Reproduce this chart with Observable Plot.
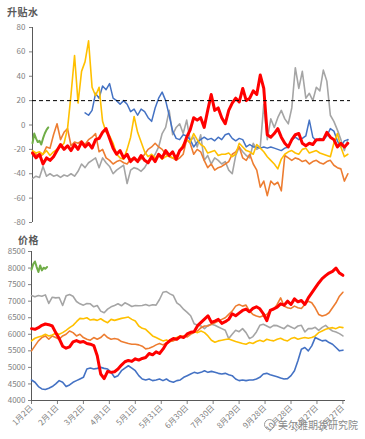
<!DOCTYPE html>
<html><head><meta charset="utf-8">
<script src="https://cdn.jsdelivr.net/npm/d3@7"></script>
<script src="https://cdn.jsdelivr.net/npm/@observablehq/plot@0.6"></script>
<style>
body{margin:0;background:#fff;font-family:"Noto Sans CJK SC",sans-serif;}
#wrap{position:relative;width:365px;height:439px;overflow:hidden;}
.ttl{position:absolute;z-index:3;font-size:10px;color:#595959;font-weight:600;letter-spacing:0.5px;line-height:12px;}
#top,#bot{position:absolute;left:0;z-index:1;}
#wm{position:absolute;z-index:3;left:264px;top:419px;font-size:10px;color:#8a8a8a;line-height:12px;white-space:nowrap;}
#wm span.ic{display:inline-block;width:9px;height:9px;border:1.5px solid #9a9a9a;border-radius:50%;vertical-align:-1px;margin-right:3px;}
</style></head><body>
<div id="wrap">
<div id="top" style="top:0"></div>
<div id="bot" style="top:232px"></div>
<div class="ttl" style="left:7px;top:6px">升贴水</div>
<div class="ttl" style="left:18px;top:234px">价格</div>
<div id="wm"><span class="ic"></span>美尔雅期货研究院</div>
</div>
<script>
// ---------- data ----------
const startUTC = Date.UTC(2020, 0, 2);
const dayOffsets = d3.range(0, 361, 4);          // sample days since 1月2日
const greenDays = [0, 2, 4, 6, 8, 10, 12, 14, 16, 18];
const tickDays = [0, 30, 60, 90, 120, 150, 180, 210, 240, 270, 300, 330, 360];
const tickLabels = ["1月2日","2月1日","3月2日","4月1日","5月1日","5月31日","6月30日","7月30日","8月29日","9月28日","10月28日","11月27日","12月27日"];
const basisTicks = [-80, -60, -40, -20, 0, 20, 40, 60, 80];
const priceTicks = [4000, 4500, 5000, 5500, 6000, 6500, 7000, 7500, 8000, 8500];
const basisRef = [20];

// 升贴水 (basis)
const basisRed = [-23,-27,-24,-32,-27,-29,-26,-21,-16,-20,
 -17,-21,-16,-20,-14,-18,-15,-19,-12,-11,
 -6,-3,-11,-19,-24,-21,-27,-24,-30,-27,
 -30,-25,-29,-31,-26,-30,-24,-27,-21,-25,
 -22,-28,-21,-18,-10,-4,6,4,6,-2,
 12,25,12,14,6,1,12,18,22,19,
 30,20,22,28,25,41,30,-8,-10,-7,
 -3,-10,-15,-18,-12,-8,-7,-15,-17,-15,
 -16,-12,-12,-12,-6,-10,-12,-18,-15,-18,
 -15];
const basisGray = [-44,-42,-43,-34,-42,-40,-42,-41,-43,-41,
 -42,-40,-42,-38,-32,-35,-31,-29,-27,-35,
 -27,-31,-34,-40,-37,-35,-33,-48,-37,-35,
 -36,-38,-35,-30,-28,-24,-18,-7,-2,12,
 -8,-2,1,-7,4,-13,-10,-18,-8,-29,
 -25,-32,-27,-29,-32,-30,-37,-40,-25,-18,
 -22,-25,-27,-15,-20,-18,17,-12,5,-2,
 6,12,5,1,14,47,30,44,22,26,
 20,31,28,45,36,8,3,-4,-12,-21,
 -12];
const basisOrange = [-22,-24,-26,-24,-18,-19,-8,1,-12,-6,
 -3,-17,-14,-15,-13,-16,-12,-10,-7,-22,
 -20,-27,-29,-32,-30,-29,-31,-32,-28,-27,
 -30,-28,-24,-20,-18,-15,-18,-20,-24,-26,
 -27,-29,-27,-24,-12,-15,-24,-20,-22,-29,
 -35,-32,-37,-35,-34,-32,-30,-24,-22,-18,
 -27,-29,-24,-32,-37,-51,-46,-58,-46,-49,
 -47,-54,-25,-27,-29,-27,-28,-30,-29,-32,
 -30,-29,-31,-32,-30,-29,-33,-35,-36,-46,
 -40];
const basisYellow = [-21,-23,-22,-24,-21,-25,-22,-20,-18,-15,
 -3,25,57,18,44,52,69,31,24,31,
 3,-6,-9,-15,-24,-27,-28,-20,-10,7,
 -6,-14,-22,-26,-24,-27,-25,-28,-26,-25,
 -27,-26,-21,-16,-12,-14,-7,-12,-16,-18,
 -23,-22,-21,-25,-24,-24,-23,-26,-24,-15,
 -18,-21,-22,-24,-16,-19,-22,-26,-29,-32,
 -36,-28,-24,-22,-21,-23,-24,-20,-19,-23,
 -22,-21,-23,-24,-25,-26,-15,-7,-18,-26,
 -24];
const basisBlue = [null,null,null,null,null,null,null,null,null,null,
 null,null,null,null,null,10,8,12,26,22,
 32,29,34,22,20,17,20,17,11,13,
 8,13,11,6,3,14,22,27,20,8,
 -5,-11,-12,-8,-9,-12,-18,-14,-12,-10,
 -12,-11,-13,-10,-12,-8,-7,-11,-13,-11,
 -12,-18,-16,-18,-18,-19,-18,-19,-18,-19,
 -20,-21,-19,-18,-12,-10,-12,-11,-9,4,
 -10,-13,-11,-12,-9,-3,-5,-13,-18,-13,
 -12];
const basisGreen = [-15,-7,-11,-14,-13,-16,-11,-7,-4,-2];

// 价格 (price)
const priceRed = [6170,6150,6200,6270,6310,6290,6250,6050,5870,5640,
 5580,5620,5770,5810,5760,5780,5720,5700,5660,5350,
 4800,4660,4880,4850,4870,4950,5070,5170,5210,5180,
 5260,5220,5270,5300,5420,5380,5470,5420,5550,5720,
 5810,5870,5850,5930,5900,6010,6060,6080,6260,6360,
 6460,6560,6360,6400,6450,6330,6380,6450,6620,6560,
 6640,6720,6760,6680,6780,6830,6770,6620,6410,6720,
 6770,6820,6920,6880,7000,6900,7070,6980,7020,6900,
 7100,7250,7400,7550,7680,7770,7850,7900,8000,7850,
 7780];
const priceGray = [7170,7130,7170,7150,7190,6930,7120,7100,7110,6870,
 7160,7200,7150,6990,6920,6880,6930,6920,6830,6870,
 6700,6650,6760,6830,6870,6920,6860,6950,6900,6840,
 6870,6860,6870,6900,6860,6890,6880,7050,7270,7290,
 7220,7170,6950,6870,6750,6660,6560,6320,6270,6250,
 6170,6270,6300,6270,6220,6170,6120,5870,6000,6120,
 6080,6170,6050,5870,5930,6070,6270,6300,6250,6200,
 6270,6260,6210,6170,6270,6220,6170,6250,6270,6070,
 6170,6170,6210,6120,6210,6270,6170,6100,6070,6020,
 5950];
const priceOrange = [5500,5650,5800,5900,5950,5850,5950,5900,5850,5950,
 6000,6100,6050,5950,6000,5900,5850,5820,5900,5850,
 5900,6000,5900,5850,5870,5850,5780,5750,5720,5700,
 5700,5680,5640,5560,5580,5620,5680,5720,5680,5740,
 5780,5800,5850,5900,5950,5920,6000,6050,6100,6200,
 6250,6250,6300,6350,6400,6450,6500,6600,6700,6850,
 6900,6850,6880,6700,6600,6550,6520,6560,6600,6700,
 6750,6900,7100,6850,6800,6780,6850,6800,6780,6900,
 7000,6950,6800,6600,6550,6580,6650,6800,6950,7150,
 7270];
const priceYellow = [5800,5880,5920,5950,6000,5950,5980,6030,6000,6050,
 6120,6200,6270,6380,6480,6470,6500,6430,6450,6420,
 6470,6400,6350,6450,6420,6450,6480,6500,6520,6450,
 6400,6250,6180,6150,6050,5950,5900,5850,5800,5830,
 5780,5850,5900,5950,5930,5980,6050,6080,6050,6100,
 6050,5950,5820,5760,5800,5820,5840,5860,5820,5780,
 5750,5720,5700,5750,5720,5780,5820,5780,5850,5820,
 5800,5850,5880,5830,5800,5870,5900,5850,5880,5900,
 5880,5900,5950,6050,6100,6150,6180,6200,6170,6220,
 6200];
const priceBlue = [4620,4550,4420,4350,4330,4370,4420,4500,4600,4550,
 4420,4470,4550,4600,4650,4700,4950,4980,4950,4970,
 5000,4970,4950,4850,4700,4750,4900,4980,5050,4980,
 4900,4750,4650,4620,4650,4600,4620,4650,4600,4650,
 4580,4550,4600,4620,4700,4750,4800,4850,4820,4850,
 4900,4850,4880,4850,4820,4800,4820,4780,4750,4650,
 4600,4620,4600,4620,4620,4650,4700,4800,4820,4780,
 4750,4720,4680,4650,4660,4750,4900,5200,5550,5600,
 5500,5650,5900,5850,5800,5820,5750,5700,5600,5500,
 5520];
const priceGreen = [7950,8120,8200,8030,7880,8080,7930,8010,7980,8030];

// ---------- helpers ----------
const toDate = d => new Date(startUTC + d * 864e5);
const rows = (days, vals) => days.map((d, i) => ({date: toDate(d), v: vals[i]})).filter(r => r.v != null);
const labelByTime = new Map(tickDays.map((d, i) => [+toDate(d), tickLabels[i]]));
const tickDates = tickDays.map(toDate);
const xDomain = [toDate(0), toDate(363)];

const C = {red: "#FF0000", gray: "#A5A5A5", orange: "#ED7D31", yellow: "#FFC000", blue: "#4472C4", green: "#70AD47"};
const font = '"Noto Sans CJK SC", "Noto Sans", sans-serif';

function seriesMarks(list) {
  return list.map(([days, vals, color, w]) =>
    Plot.line(rows(days, vals), {x: "date", y: "v", stroke: color, strokeWidth: w, strokeLinejoin: "round"}));
}

// ---------- top panel: 升贴水 ----------
const topPlot = Plot.plot({
  width: 365, height: 232,
  marginTop: 27, marginBottom: 10, marginLeft: 32, marginRight: 15,
  style: {fontFamily: font, fontSize: "8px", color: "#808080", background: "transparent", overflow: "visible"},
  x: {type: "utc", domain: xDomain, axis: null},
  y: {domain: [-80, 80]},
  marks: [
    Plot.axisY({ticks: basisTicks, tickSize: 3, tickPadding: 4, label: null, tickFormat: d => String(d)}),
    Plot.ruleX([toDate(0)], {stroke: "#595959", strokeWidth: 1}),
    ...seriesMarks([
      [dayOffsets, basisGray, C.gray, 1.6],
      [dayOffsets, basisOrange, C.orange, 1.6],
      [dayOffsets, basisBlue, C.blue, 1.5],
      [dayOffsets, basisYellow, C.yellow, 1.6],
      [greenDays, basisGreen, C.green, 2],
      [dayOffsets, basisRed, C.red, 3]
    ]),
    Plot.ruleY(basisRef, {stroke: "#000", strokeWidth: 1, strokeDasharray: "4,3"})
  ]
});
document.getElementById("top").appendChild(topPlot);

// ---------- bottom panel: 价格 ----------
const botPlot = Plot.plot({
  width: 365, height: 207,
  marginTop: 19, marginBottom: 39, marginLeft: 31, marginRight: 20,
  style: {fontFamily: font, fontSize: "8px", color: "#808080", background: "transparent", overflow: "visible"},
  x: {type: "utc", domain: xDomain},
  y: {domain: [4000, 8500]},
  marks: [
    Plot.axisY({ticks: priceTicks, tickSize: 3, tickPadding: 3, label: null, tickFormat: d => String(d)}),
    Plot.axisX({ticks: tickDates, tickSize: 4, tickPadding: 2, tickRotate: -45, label: null, tickFormat: d => labelByTime.get(+d)}),
    Plot.ruleX([toDate(0)], {stroke: "#595959", strokeWidth: 1}),
    Plot.ruleY([4000], {stroke: "#595959", strokeWidth: 1}),
    ...seriesMarks([
      [dayOffsets, priceGray, C.gray, 1.6],
      [dayOffsets, priceOrange, C.orange, 1.6],
      [dayOffsets, priceYellow, C.yellow, 1.6],
      [dayOffsets, priceBlue, C.blue, 1.6],
      [greenDays, priceGreen, C.green, 2],
      [dayOffsets, priceRed, C.red, 3]
    ])
  ]
});
document.getElementById("bot").appendChild(botPlot);
</script>
</body></html>
